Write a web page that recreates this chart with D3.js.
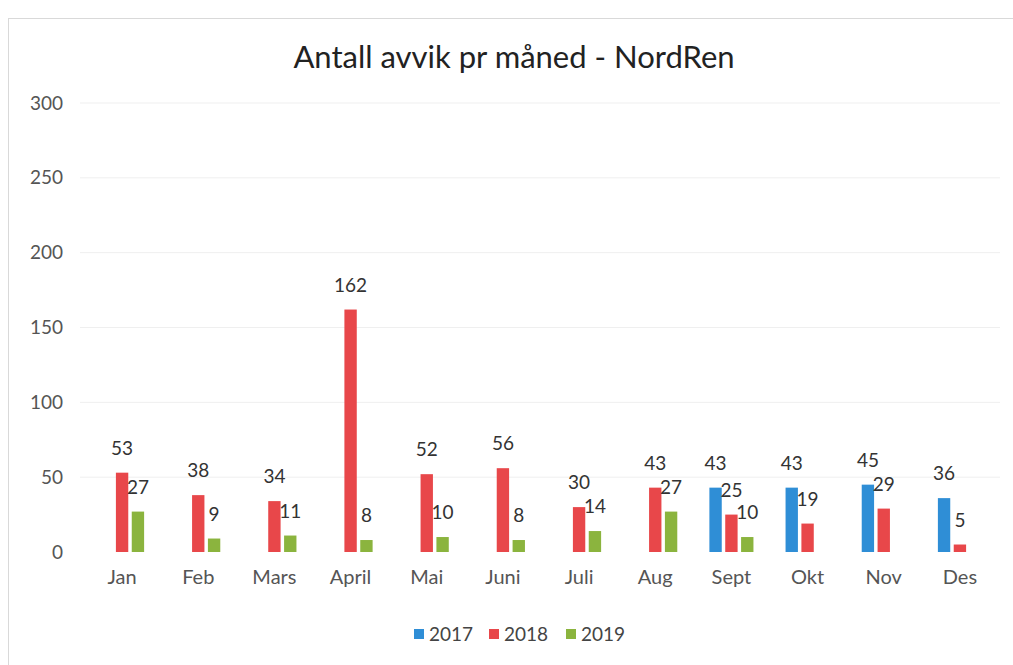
<!DOCTYPE html>
<html>
<head>
<meta charset="utf-8">
<script src="https://cdn.jsdelivr.net/npm/d3@7"></script>
<style>
  body { margin: 0; background: #fff; }
  svg text { font-family: Lato, "Open Sans", sans-serif; }
</style>
</head>
<body>
<div id="chart"></div>
<script>
// data
var months = ["Jan", "Feb", "Mars", "April", "Mai", "Juni", "Juli", "Aug", "Sept", "Okt", "Nov", "Des"];
var years = ["2017", "2018", "2019"];
var v2017 = [null, null, null, null, null, null, null, null, 43, 43, 45, 36];
var v2018 = [53, 38, 34, 162, 52, 56, 30, 43, 25, 19, 29, 5];
var v2019 = [27, 9, 11, 8, 10, 8, 14, 27, 10, null, null, null];
var yTicks = [0, 50, 100, 150, 200, 250, 300];
var colors = ["#2f8ed6", "#e8474a", "#8bb43e"];

function init()
{
    var w = 1013;
    var h = 665;

    var series = [v2017, v2018, v2019];
    var dataset = [];
    months.forEach(function(m, i) {
        years.forEach(function(y, j) {
            if (series[j][i] != null) {
                dataset.push({ month: m, year: y, value: series[j][i], k: j });
            }
        });
    });

    var svg = d3.select("#chart")
        .append("svg")
        .attr("width", w)
        .attr("height", h);

    // chart frame
    svg.append("rect")
        .attr("x", 8.5).attr("y", 18.5)
        .attr("width", w).attr("height", h)
        .attr("fill", "none")
        .attr("stroke", "#d9d9d9");

    var xScale = d3.scaleBand()
        .domain(months)
        .range([84, 998])
        .paddingInner(0.33)
        .paddingOuter(0.165);

    var xInner = d3.scaleBand()
        .domain(years)
        .range([0, xScale.bandwidth()])
        .padding(0.22);

    var yScale = d3.scaleLinear()
        .domain([0, 300])
        .range([552, 103]);

    // gridlines
    svg.append("g")
        .selectAll("line")
        .data(yTicks.slice(1))
        .enter()
        .append("line")
        .attr("x1", 80).attr("x2", 1000)
        .attr("y1", function(d) { return yScale(d); })
        .attr("y2", function(d) { return yScale(d); })
        .attr("stroke", "#efefef")
        .attr("stroke-width", 1);

    // y axis labels
    var yAxis = d3.axisLeft(yScale)
        .tickValues(yTicks)
        .tickSize(0)
        .tickPadding(0);
    var gy = svg.append("g")
        .attr("transform", "translate(63,0)")
        .call(yAxis);
    gy.select(".domain").remove();
    gy.selectAll("text")
        .attr("font-size", 19)
        .attr("fill", "#555")
        .style("font-family", "Lato, sans-serif");

    // x axis labels
    var xAxis = d3.axisBottom(xScale)
        .tickSize(0)
        .tickPadding(0);
    var gx = svg.append("g")
        .attr("transform", "translate(0,570)")
        .call(xAxis);
    gx.select(".domain").remove();
    gx.selectAll("text")
        .attr("font-size", 20)
        .attr("fill", "#555")
        .style("font-family", "Lato, sans-serif");

    // bars
    svg.append("g")
        .selectAll("rect")
        .data(dataset)
        .enter()
        .append("rect")
        .attr("x", function(d) { return xScale(d.month) + xInner(d.year); })
        .attr("y", function(d) { return yScale(d.value); })
        .attr("width", xInner.bandwidth())
        .attr("height", function(d) { return yScale(0) - yScale(d.value); })
        .attr("fill", function(d) { return colors[d.k]; });

    // value labels
    svg.append("g")
        .selectAll("text")
        .data(dataset)
        .enter()
        .append("text")
        .attr("x", function(d) { return xScale(d.month) + xInner(d.year) + xInner.bandwidth() / 2; })
        .attr("y", function(d) { return yScale(d.value) - 18; })
        .attr("text-anchor", "middle")
        .attr("font-size", 19)
        .attr("fill", "#333")
        .text(function(d) { return d.value; });

    // title
    svg.append("text")
        .attr("x", 514)
        .attr("y", 68)
        .attr("text-anchor", "middle")
        .attr("font-size", 31)
        .attr("fill", "#222")
        .text("Antall avvik pr måned - NordRen");

    // legend
    var legendX = [414, 489, 566];
    var legend = svg.append("g")
        .selectAll("g")
        .data(years)
        .enter()
        .append("g")
        .attr("transform", function(d, i) { return "translate(" + legendX[i] + ",634)"; });
    legend.append("rect")
        .attr("x", 0).attr("y", -5)
        .attr("width", 10).attr("height", 10)
        .attr("fill", function(d, i) { return colors[i]; });
    legend.append("text")
        .attr("x", 15)
        .attr("y", 7)
        .attr("font-size", 19)
        .attr("fill", "#444")
        .text(function(d) { return d; });
}

window.onload = init;
</script>
</body>
</html>
